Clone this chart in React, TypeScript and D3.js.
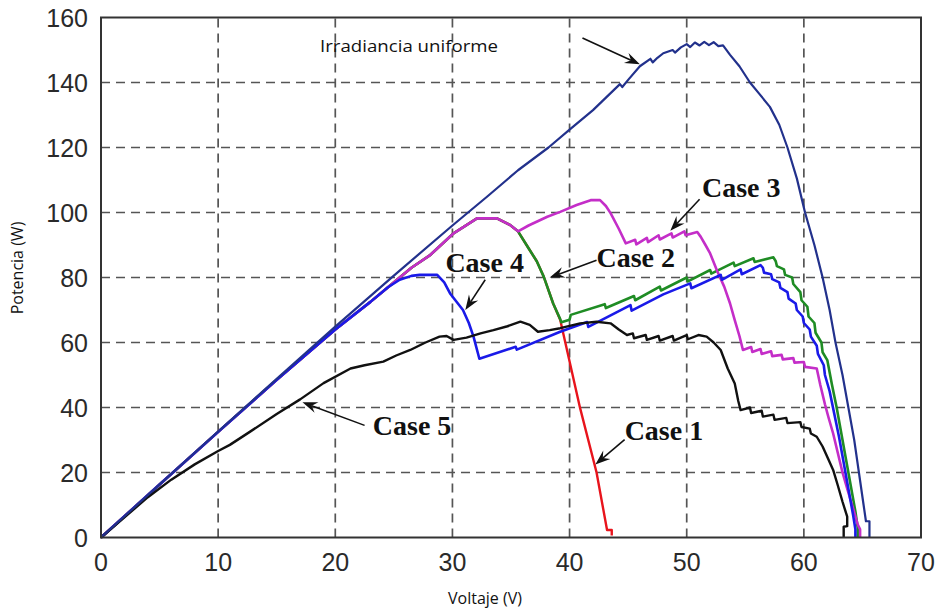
import React from "react";
import * as d3 from "d3";

type Pt = [number, number];

// Axis ticks
const xTicks = [0, 10, 20, 30, 40, 50, 60, 70];
const yTicks = [0, 20, 40, 60, 80, 100, 120, 140, 160];

// P–V curves: [voltage (V), power (W)]
const uniform: Pt[] = [
  [0, 0], [5, 16.3], [10, 32.6], [15, 48.8], [20, 64.9], [25, 80.6], [30, 96], [33, 105],
  [35.6, 113], [38.2, 120], [40, 125.5], [42, 131.5], [44.3, 139.5], [44.5, 138.6], [45, 140.8],
  [46, 145], [46.9, 147.3], [47.1, 146.2], [47.5, 147.6], [48, 149], [48.8, 150], [49, 149.2],
  [49.5, 150.8], [50, 151.8], [50.3, 150.9], [50.7, 152.3], [51.1, 151.4], [51.5, 152.5],
  [51.9, 151.5], [52.3, 152.4], [52.7, 151.2], [53.1, 151.4], [53.7, 148.5], [54.5, 145],
  [55.4, 140], [56.2, 136.5], [57.1, 132.5], [57.9, 127], [58.6, 120], [59.4, 110.5],
  [60.1, 100], [60.9, 90], [61.6, 80], [62.2, 70], [62.7, 60], [63.3, 50], [63.8, 40],
  [64.3, 30], [64.7, 20], [65.1, 10], [65.3, 5], [65.6, 5], [65.6, 0],
];

const case1: Pt[] = [
  [0, 0], [5, 16.3], [10, 32.5], [15, 48.5], [20, 64], [23, 72.5], [24.5, 77], [25.5, 80],
  [26.5, 83], [28.1, 86.9], [30.1, 93.6], [32.1, 98.2], [33.8, 98.2], [34.9, 96.2], [35.6, 94.2],
  [36.5, 89], [37.2, 85], [37.8, 80.2], [38.6, 72], [39.2, 67], [39.4, 63.8], [40.9, 39.8],
  [42.3, 20.1], [43.2, 2.3], [43.6, 2.3], [43.6, 0.6],
];

const case2: Pt[] = [
  [0, 0], [5, 16.3], [10, 32.5], [15, 48.5], [20, 64], [23, 72.5], [24.5, 77], [25.5, 80],
  [26.5, 83], [28.1, 86.9], [30.1, 93.6], [32.1, 98.2], [33.8, 98.2], [34.9, 96.2], [35.6, 94.2],
  [36.5, 89], [37.2, 85], [37.8, 80.2], [38.6, 72], [39.2, 67.2], [39.3, 66.2], [40, 67],
  [40.1, 68.5], [43, 71.8], [43.1, 70.6], [45.5, 74.3], [45.6, 73], [47.7, 77.2], [47.8, 76],
  [50, 80], [50.1, 78.8], [52, 82.3], [52.1, 81.2], [54, 84.6], [54.1, 83.5], [55.7, 85.9],
  [55.8, 84.8], [57.4, 86.2], [57.6, 85], [57.7, 83.5], [58.3, 82.5], [58.4, 80.8], [59, 80],
  [59.1, 78], [59.7, 75.5], [59.8, 73], [60.3, 71], [60.4, 68], [60.9, 66], [61, 63],
  [61.5, 60], [61.6, 57], [62, 54.6], [62.4, 47], [62.8, 40], [63.2, 32], [63.6, 24], [64, 16],
  [64.4, 8], [64.6, 3], [64.6, 0],
];

const case3: Pt[] = [
  [0, 0], [5, 16.3], [10, 32.5], [15, 48.5], [20, 64], [23, 72.5], [24.5, 77], [25.5, 80],
  [26.5, 83], [28.1, 86.9], [30.1, 93.6], [32.1, 98.2], [33.8, 98.2], [34.9, 96.2], [35.6, 94.2],
  [36.5, 96], [38.1, 98.7], [39.2, 100.2], [40.6, 102.3], [41.8, 103.8], [42.6, 103.8],
  [43.1, 102], [43.5, 99.8], [44.2, 95], [44.8, 90.5], [45.6, 91.6], [45.7, 90.2], [46.6, 92.2],
  [46.7, 90.9], [47.6, 93], [47.7, 91.7], [48.7, 93.6], [48.8, 92.3], [49.8, 94.2], [49.9, 93],
  [50.9, 94], [51.2, 92.5], [51.6, 90], [52, 87.4], [52.6, 82], [53.2, 77.2], [53.7, 72],
  [54.1, 66.9], [54.5, 62], [54.8, 57.7], [55.5, 58.6], [55.6, 57.1], [56.3, 58], [56.4, 56.5],
  [57.2, 57.3], [57.3, 55.8], [58.1, 56.2], [58.2, 54.8], [59.1, 55.2], [59.2, 53.8], [60, 54],
  [60.1, 52.5], [61.1, 52], [61.4, 47], [61.8, 41], [62.1, 37], [62.5, 32], [62.9, 26],
  [63.3, 20], [63.7, 15], [64.2, 9], [64.6, 4], [64.8, 2.5], [64.8, 0],
];

const case4: Pt[] = [
  [0, 0], [5, 16.3], [10, 32.5], [15, 48.5], [20, 64], [23, 72.5], [24.5, 77], [25.5, 79.3],
  [26.5, 80.5], [27.2, 80.8], [28.7, 80.8], [29.3, 78.5], [29.8, 75.1], [30.9, 70], [31.4, 66],
  [31.8, 61.8], [32.3, 55], [35.4, 58.7], [35.5, 57.8], [39.2, 63.3], [41.5, 66.3], [41.6, 64.8],
  [45.2, 71.5], [45.3, 69.8], [48, 74.8], [50.3, 78.2], [50.4, 76.7], [52.9, 80.8], [53, 79.3],
  [54.6, 82.5], [54.7, 81], [56.3, 83.8], [56.5, 83], [56.6, 81.5], [57.2, 81], [57.3, 79.5],
  [57.9, 78.5], [58, 76.8], [58.6, 75.5], [58.7, 73.5], [59.3, 72], [59.4, 70], [59.9, 68],
  [60, 66], [60.5, 64], [60.6, 61.8], [61.1, 59], [61.2, 56.5], [61.7, 53], [61.8, 50],
  [62.2, 45], [62.6, 38], [63, 31], [63.4, 23], [63.8, 15], [64.2, 7], [64.4, 2.5], [64.4, 0],
];

const case5: Pt[] = [
  [0, 0], [2, 6.2], [4, 12.4], [6, 17.8], [8, 22.5], [10, 26.6], [11, 28.5], [12.7, 32.5],
  [15, 38], [17, 42.5], [19, 47.5], [21.3, 52], [22.5, 53], [24.1, 54.1], [25.2, 56],
  [26.4, 57.7], [27.7, 60], [28.9, 61.8], [29.5, 62], [30.1, 60.8], [31.2, 61.5], [32.4, 62.8],
  [33.5, 63.8], [34.7, 65], [35.8, 66.4], [36.6, 65.4], [37.3, 63.3], [38.3, 63.8], [39.2, 64.4],
  [40.9, 65.9], [42.3, 66.4], [43.5, 65.9], [44.2, 64], [44.9, 62.3], [45.4, 62.8], [45.5, 61.3],
  [46.5, 62.3], [46.6, 60.8], [47.6, 62], [47.7, 60.6], [48.8, 62], [48.9, 60.6], [50, 62.3],
  [50.1, 61], [51, 62.3], [51.7, 61.8], [52.3, 60], [52.9, 57.7], [53.5, 52], [54.1, 47.4],
  [54.4, 42], [54.6, 39.2], [55.4, 40], [55.5, 38.3], [56.4, 39], [56.5, 37.2], [57.4, 37.8],
  [57.5, 36.2], [58.5, 36.8], [58.6, 35.2], [59.7, 35.5], [59.8, 34], [60.5, 33.5], [60.6, 32],
  [61.1, 31], [61.6, 28], [62.1, 24], [62.5, 20.8], [62.9, 16], [63.3, 11], [63.7, 6.4],
  [63.7, 3.5], [63.4, 3.3], [63.4, 0],
];

// Drawing order: bottom to top
const series = [
  { name: "Case 1", data: case1, color: "#e8141c", width: 2.4 },
  { name: "Case 2", data: case2, color: "#1f8c24", width: 2.6 },
  { name: "Case 3", data: case3, color: "#c42ec8", width: 2.6 },
  { name: "Case 4", data: case4, color: "#1a1ae8", width: 2.6 },
  { name: "Case 5", data: case5, color: "#111111", width: 2.4 },
  { name: "Uniforme", data: uniform, color: "#22318c", width: 2.2 },
];

// Annotations: text, text anchor point, arrow start and arrow tip in data units
const annotations = [
  { text: "Case 3", at: [51.3, 104.7] as Pt, from: [51.1, 104.1] as Pt, to: [48.6, 94.4] as Pt },
  { text: "Case 4", at: [29.4, 81.8] as Pt, from: [32.8, 79.3] as Pt, to: [31.1, 70] as Pt },
  { text: "Case 2", at: [42.3, 83.3] as Pt, from: [42.3, 85.3] as Pt, to: [38.3, 80] as Pt },
  { text: "Case 5", at: [23.2, 31.5] as Pt, from: [22.5, 34.5] as Pt, to: [17.2, 41.6] as Pt },
  { text: "Case 1", at: [44.7, 30] as Pt, from: [44.7, 30.1] as Pt, to: [42.2, 22.5] as Pt },
];
const uniformLabel = { text: "Irradiancia uniforme", at: [18.7, 149.4] as Pt, from: [41.1, 153.7] as Pt, to: [46.0, 145.6] as Pt };

const W = 938;
const H = 615;
const x = d3.scaleLinear().domain([0, 70]).range([101, 921]);
const y = d3.scaleLinear().domain([0, 160]).range([537.5, 17.5]);

const line = d3
  .line<Pt>()
  .x((d) => x(d[0]))
  .y((d) => y(d[1]));

function Arrow({ from, to }: { from: Pt; to: Pt }) {
  const x1 = x(from[0]);
  const y1 = y(from[1]);
  const x2 = x(to[0]);
  const y2 = y(to[1]);
  const ang = Math.atan2(y2 - y1, x2 - x1);
  const L = 15;
  const Wd = 5.5;
  const bx = x2 - L * Math.cos(ang);
  const by = y2 - L * Math.sin(ang);
  const nx = -Math.sin(ang);
  const ny = Math.cos(ang);
  const ix = x2 - L * 0.65 * Math.cos(ang);
  const iy = y2 - L * 0.65 * Math.sin(ang);
  const head = `M${x2},${y2} L${bx + nx * Wd},${by + ny * Wd} L${ix},${iy} L${bx - nx * Wd},${by - ny * Wd} Z`;
  return (
    <g>
      <line x1={x1} y1={y1} x2={ix} y2={iy} stroke="#111" strokeWidth={1.6} />
      <path d={head} fill="#111" />
    </g>
  );
}

export default function App() {
  return (
    <svg
      width={W}
      height={H}
      style={{ position: "absolute", left: 0, top: 0, background: "#fff" }}
      fontFamily="'Liberation Sans', Arial, sans-serif"
    >
      {/* grid */}
      <g stroke="#555" strokeWidth={1.7} strokeDasharray="9,6">
        {xTicks.slice(1, -1).map((t) => (
          <line key={`gx${t}`} x1={x(t)} x2={x(t)} y1={y(0)} y2={y(160)} />
        ))}
        {yTicks.slice(1, -1).map((t) => (
          <line key={`gy${t}`} x1={x(0)} x2={x(70)} y1={y(t)} y2={y(t)} />
        ))}
      </g>

      {/* curves */}
      {series.map((s) => (
        <path
          key={s.name}
          d={line(s.data) || ""}
          fill="none"
          stroke={s.color}
          strokeWidth={s.width}
          strokeLinejoin="round"
        />
      ))}

      {/* axes box */}
      <rect x={x(0)} y={y(160)} width={x(70) - x(0)} height={y(0) - y(160)} fill="none" stroke="#333" strokeWidth={2} />

      {/* tick labels */}
      <g fill="#2a2a2a" fontSize={25}>
        {yTicks.map((t) => (
          <text key={`ty${t}`} x={88} y={y(t)} dy="0.36em" textAnchor="end">
            {t}
          </text>
        ))}
        {xTicks.map((t) => (
          <text key={`tx${t}`} x={x(t)} y={571} textAnchor="middle">
            {t}
          </text>
        ))}
      </g>

      {/* axis titles */}
      <text x={485} y={604} textAnchor="middle" fontSize={16} fill="#111" fontFamily="'Open Sans', 'Liberation Sans', sans-serif">
        Voltaje (V)
      </text>
      <text
        transform={`translate(23,268) rotate(-90)`}
        textAnchor="middle"
        fontSize={16}
        fill="#111"
        fontFamily="'Open Sans', 'Liberation Sans', sans-serif"
      >
        Potencia (W)
      </text>

      {/* annotations */}
      <text
        x={x(uniformLabel.at[0])}
        y={y(uniformLabel.at[1])}
        fontSize={17}
        textLength={178}
        lengthAdjust="spacingAndGlyphs"
        fill="#111"
        fontFamily="'Open Sans', 'Liberation Sans', sans-serif"
      >
        {uniformLabel.text}
      </text>
      <Arrow from={uniformLabel.from} to={uniformLabel.to} />
      {annotations.map((a) => (
        <g key={a.text}>
          <text
            x={x(a.at[0])}
            y={y(a.at[1])}
            fontFamily="'Liberation Serif', 'Times New Roman', serif"
            fontWeight="bold"
            fontSize={28}
            fill="#111"
          >
            {a.text}
          </text>
          <Arrow from={a.from} to={a.to} />
        </g>
      ))}
    </svg>
  );
}
